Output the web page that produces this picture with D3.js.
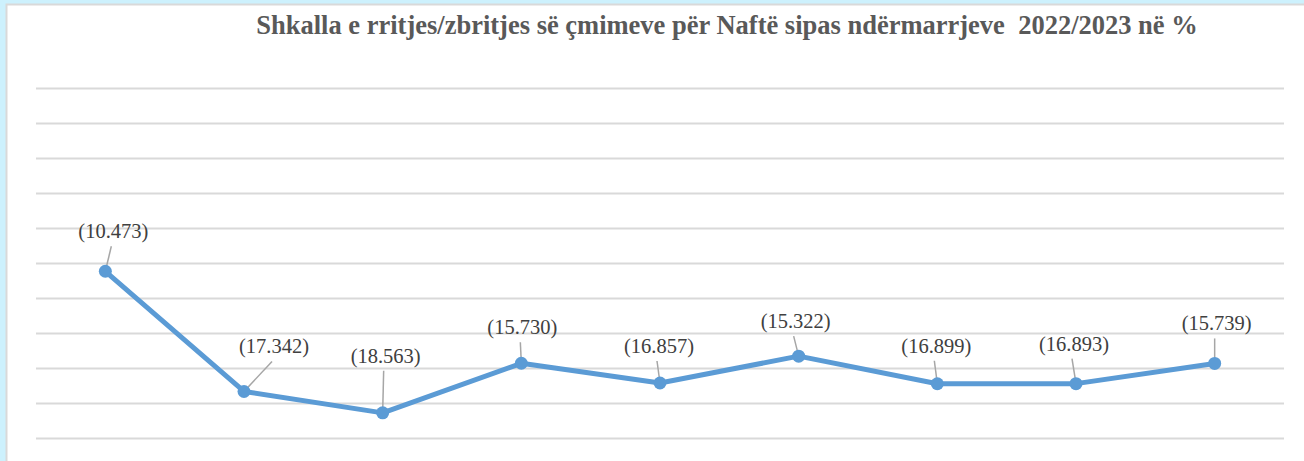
<!DOCTYPE html>
<html>
<head>
<meta charset="utf-8">
<script src="https://cdn.jsdelivr.net/npm/d3@7"></script>
<style>
  html, body { margin: 0; padding: 0; background: #cdf1fd; }
  svg { display: block; }
  text { font-family: 'Liberation Serif', 'DejaVu Serif', serif; }
</style>
</head>
<body>
<svg id="chart" width="1304" height="461"></svg>
<script>
const title = 'Shkalla e rritjes/zbritjes së çmimeve për Naftë sipas ndërmarrjeve  2022/2023 në %';
const categories = ['N1', 'N2', 'N3', 'N4', 'N5', 'N6', 'N7', 'N8', 'N9'];
const values = [-10.473, -17.342, -18.563, -15.730, -16.857, -15.322, -16.899, -16.893, -15.739];
const yTicks = [0, -2, -4, -6, -8, -10, -12, -14, -16, -18, -20];
// label nudges relative to each point (dx, dy to text baseline)
const labelNudge = [[8, -33], [30, -38], [3, -50], [1, -29], [-1, -30], [-3, -28], [-1, -31], [-2, -33], [2, -33]];

const svg = d3.select('#chart');
const margin = { top: 88, right: 20, bottom: 23, left: 36 };
const width = 1304, height = 461;
const innerWidth = 1284 - margin.left;
const innerHeight = height - margin.top - margin.bottom;

// chart area
svg.append('rect')
  .attr('x', 6.5).attr('y', 4.5)
  .attr('width', 1310).attr('height', 470)
  .attr('fill', '#fff')
  .attr('stroke', '#d9d9d9')
  .attr('stroke-width', 2);

svg.append('text')
  .attr('x', 727).attr('y', 34)
  .attr('text-anchor', 'middle')
  .style('font-weight', 'bold')
  .style('font-size', '26.5px')
  .style('white-space', 'pre')
  .attr('fill', '#595959')
  .text(title);

const x = d3.scaleBand().domain(categories).range([0, innerWidth]);
const y = d3.scaleLinear().domain([-20, 0]).range([innerHeight, 0]);

const g = svg.append('g').attr('transform', `translate(${margin.left},${margin.top})`);

g.append('g')
  .call(d3.axisLeft(y).tickValues(yTicks).tickSize(-innerWidth).tickFormat(''))
  .call(a => a.select('.domain').remove())
  .call(a => a.selectAll('line').attr('stroke', '#d9d9d9').attr('stroke-width', 2));

const cx = (d, i) => x(categories[i]) + x.bandwidth() / 2;

const line = d3.line()
  .x((d, i) => cx(d, i))
  .y(d => y(d));

g.append('path')
  .datum(values)
  .attr('fill', 'none')
  .attr('stroke', '#5b9bd5')
  .attr('stroke-width', 5)
  .attr('stroke-linejoin', 'round')
  .attr('d', line);

// leader lines
g.selectAll('line.leader')
  .data(values)
  .enter()
  .append('line')
  .attr('class', 'leader')
  .attr('x1', (d, i) => cx(d, i) + labelNudge[i][0] - 2)
  .attr('y1', (d, i) => y(d) + labelNudge[i][1] + 8)
  .attr('x2', (d, i) => cx(d, i))
  .attr('y2', d => y(d))
  .attr('stroke', '#a6a6a6')
  .attr('stroke-width', 1.5);

g.selectAll('circle')
  .data(values)
  .enter()
  .append('circle')
  .attr('cx', (d, i) => cx(d, i))
  .attr('cy', d => y(d))
  .attr('r', 6.5)
  .attr('fill', '#5b9bd5');

const fmt = d3.format('.3f');
g.selectAll('text.lbl')
  .data(values)
  .enter()
  .append('text')
  .attr('class', 'lbl')
  .attr('x', (d, i) => cx(d, i) + labelNudge[i][0])
  .attr('y', (d, i) => y(d) + labelNudge[i][1])
  .attr('text-anchor', 'middle')
  .style('font-size', '20.5px')
  .attr('fill', '#404040')
  .text(d => d < 0 ? `(${fmt(-d)})` : fmt(d));
</script>
</body>
</html>
